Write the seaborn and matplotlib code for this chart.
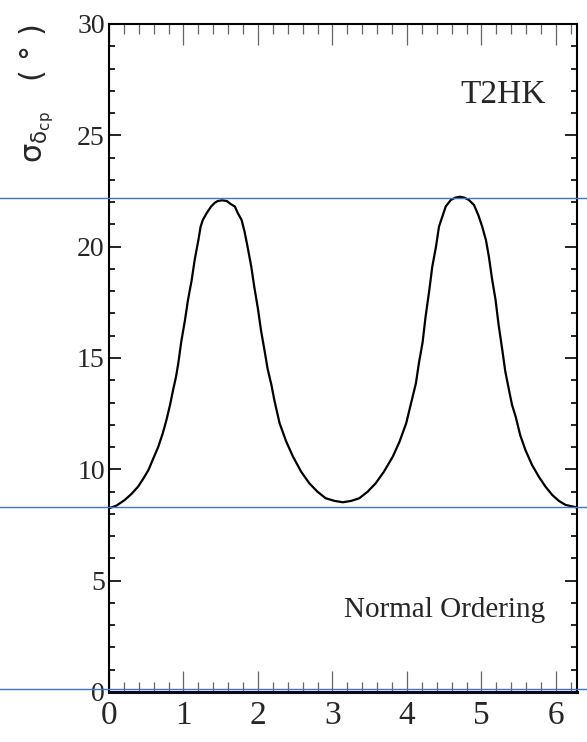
import numpy as np
import pandas as pd
import matplotlib
matplotlib.use("Agg")
import matplotlib.pyplot as plt
from matplotlib.ticker import MultipleLocator
import seaborn as sns

# CP phase (rad) and the 1-sigma precision on it (degrees)
delta_cp = [0.00, 0.10, 0.21, 0.30, 0.39, 0.46, 0.53, 0.59, 0.66, 0.72,
            0.77, 0.82, 0.86, 0.90, 0.93, 0.97, 1.02, 1.06, 1.11, 1.15,
            1.20, 1.23, 1.26, 1.31, 1.37, 1.42, 1.46, 1.52, 1.58, 1.64,
            1.69, 1.73, 1.78, 1.82, 1.86, 1.91, 1.95, 2.00, 2.04, 2.09,
            2.13, 2.18, 2.22, 2.29, 2.38, 2.47, 2.58, 2.69, 2.80, 2.91,
            3.03, 3.14, 3.25, 3.36, 3.47, 3.58, 3.69, 3.81, 3.90, 3.99,
            4.05, 4.12, 4.16, 4.21, 4.25, 4.30, 4.34, 4.39, 4.43, 4.48,
            4.52, 4.59, 4.65, 4.71, 4.77, 4.83, 4.90, 4.96, 5.01, 5.06,
            5.10, 5.14, 5.19, 5.23, 5.28, 5.32, 5.37, 5.41, 5.46, 5.52,
            5.59, 5.68, 5.77, 5.86, 5.95, 6.04, 6.13, 6.28]
sigma_dcp = [8.25, 8.37, 8.62, 8.89, 9.22, 9.58, 9.97, 10.45, 11.0, 11.6,
             12.2, 12.9, 13.56, 14.16, 14.76, 15.73, 16.7, 17.6, 18.5, 19.4,
             20.3, 20.9, 21.2, 21.5, 21.8, 21.97, 22.05, 22.08, 22.05, 21.9,
             21.8, 21.5, 21.2, 20.67, 20.0, 19.1, 18.2, 17.2, 16.25, 15.3,
             14.5, 13.8, 13.1, 12.07, 11.24, 10.57, 9.89, 9.37, 8.99, 8.70,
             8.58, 8.52, 8.58, 8.70, 8.99, 9.37, 9.89, 10.57, 11.24, 12.07,
             12.9, 13.86, 14.76, 15.7, 16.85, 18.05, 19.1, 20.0, 20.9, 21.4,
             21.8, 22.1, 22.2, 22.24, 22.2, 22.1, 21.87, 21.4, 20.9, 20.3,
             19.55, 18.6, 17.6, 16.5, 15.36, 14.4, 13.56, 12.9, 12.36, 11.54,
             10.87, 10.19, 9.67, 9.22, 8.85, 8.58, 8.40, 8.29]

# reference levels: worst precision, best precision, zero
ref_levels = [22.2, 8.3, 0.12]

x_ticks = [0, 1, 2, 3, 4, 5, 6]
y_ticks = [0, 5, 10, 15, 20, 25, 30]

sns.set_style("ticks")
plt.rcParams["font.family"] = ["Liberation Serif", "DejaVu Serif"]
plt.rcParams["mathtext.fontset"] = "dejavusans"

fig = plt.figure(figsize=(5.87, 7.42), dpi=100)
ax = fig.add_axes([0.1857, 0.0674, 0.7973, 0.9003])

df = pd.DataFrame({"delta_cp": delta_cp, "sigma": sigma_dcp})
sns.lineplot(data=df, x="delta_cp", y="sigma", ax=ax, color="black",
             linewidth=1.6, sort=True, estimator=None)

for lvl in ref_levels:
    ax.axhline(lvl, xmin=-0.24, xmax=1.03, color="#4472C4", linewidth=1.0,
               clip_on=False, zorder=5)

ax.set_xlim(0, 2 * np.pi)
ax.set_ylim(0, 30)
ax.set_xticks(x_ticks)
ax.set_yticks(y_ticks)
ax.set_xticklabels([str(t) for t in x_ticks])
ax.set_yticklabels([str(t) for t in y_ticks])
ax.xaxis.set_minor_locator(MultipleLocator(0.2))
ax.yaxis.set_minor_locator(MultipleLocator(1))

ax.tick_params(axis="x", which="major", direction="in", top=True, bottom=True,
               length=15, width=0.9, color="#666666", labelsize=24, pad=6)
ax.tick_params(axis="x", which="minor", direction="in", top=True, bottom=True,
               length=7.5, width=0.9, color="#666666")
ax.tick_params(axis="y", which="major", direction="in", left=True, right=True,
               length=8.6, width=1.2, color="black", labelsize=20, pad=3)
ax.tick_params(axis="y", which="minor", direction="in", left=True, right=True,
               length=4.3, width=1.2, color="black")

for side in ["left", "right", "top"]:
    ax.spines[side].set_linewidth(1.5)
    ax.spines[side].set_color("black")
ax.spines["bottom"].set_linewidth(2.2)
ax.spines["bottom"].set_color("#0a0a1e")

ax.set_xlabel("")
ax.set_ylabel("")

ax.text(5.86, 26.8, "T2HK", ha="right", va="center", fontsize=24)
ax.text(5.86, 3.7, "Normal Ordering", ha="right", va="center", fontsize=21)

fig.text(0.062, 0.968, r"$\mathrm{\sigma}_{\mathrm{\delta}_{\rm cp}}$   ( ° )",
         rotation=90, ha="center", va="top", fontsize=22,
         family=["DejaVu Sans"])

fig.savefig("out.png", dpi=100)
